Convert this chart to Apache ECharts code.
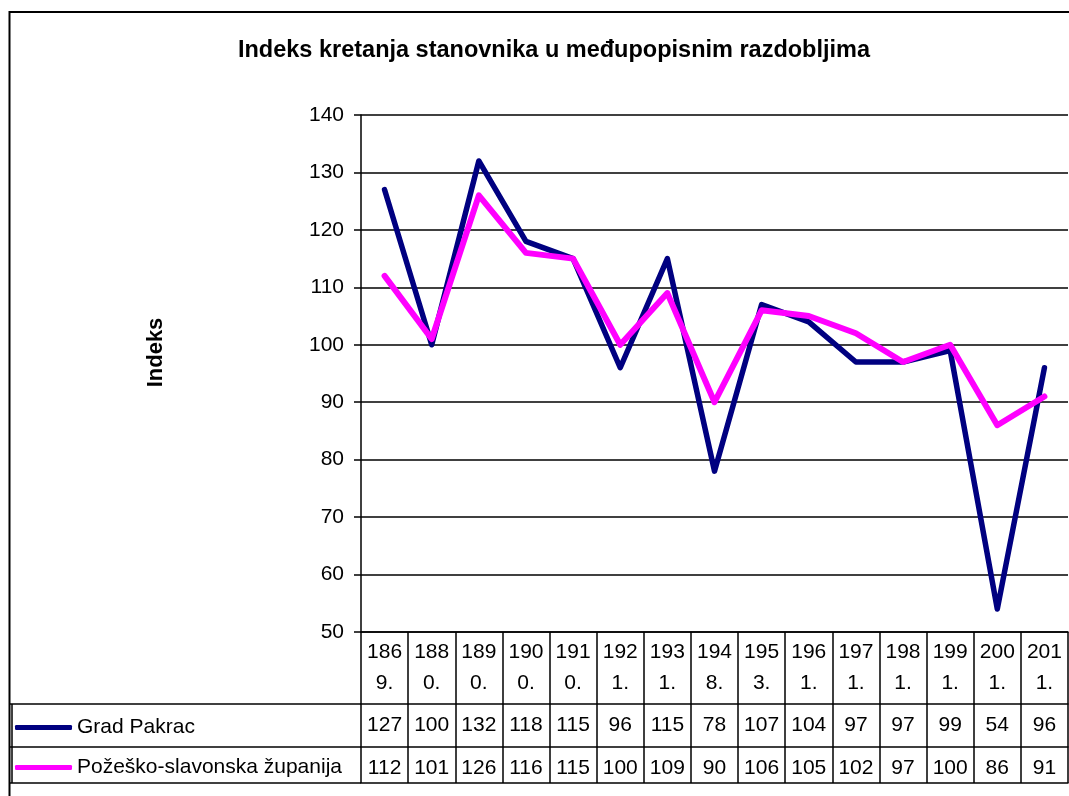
<!DOCTYPE html>
<html lang="hr">
<head>
    <meta charset="UTF-8">
    <title>Indeks kretanja stanovnika</title>
    <script src="https://cdn.jsdelivr.net/npm/echarts@6/dist/echarts.min.js"></script>
    <style>
        html, body {
            margin: 0;
            height: 100%;
            background: #fff;
        }
        #main {
            width: 1069px;
            height: 796px;
        }
    </style>
</head>
<body>
<div id="main"></div>
<script>
    // popisne godine (prelomljene kao u Excel tablici)
    var godine = ['186\n9.', '188\n0.', '189\n0.', '190\n0.', '191\n0.', '192\n1.', '193\n1.', '194\n8.',
        '195\n3.', '196\n1.', '197\n1.', '198\n1.', '199\n1.', '200\n1.', '201\n1.'];
    var gradPakrac = [127, 100, 132, 118, 115, 96, 115, 78, 107, 104, 97, 97, 99, 54, 96];
    var zupanija = [112, 101, 126, 116, 115, 100, 109, 90, 106, 105, 102, 97, 100, 86, 91];
    var yTicks = [50, 140, 10];   // min, max, korak

    var font = 'Arial, "Liberation Sans", sans-serif';
    var myChart = echarts.init(document.getElementById('main'));

    // redak tablice kao dodatna x os (samo crta + oznake)
    function tableRow(labels, offset, showLabels) {
        return {
            type: 'category',
            position: 'bottom',
            offset: offset,
            data: labels,
            axisLine: {show: true, lineStyle: {color: '#000', width: 1.5}},
            axisTick: {show: false},
            axisLabel: {
                show: showLabels,
                margin: 11,
                color: '#000',
                fontFamily: font,
                fontSize: 21
            },
            splitLine: {show: false}
        };
    }

    var option = {
        backgroundColor: '#fff',
        animation: false,
        title: {
            text: 'Indeks kretanja stanovnika u međupopisnim razdobljima',
            left: 549,
            textAlign: 'center',
            top: 34,
            textStyle: {fontFamily: font, fontSize: 23.5, fontWeight: 'bold', color: '#000'}
        },
        legend: {
            orient: 'vertical',
            left: 15,
            top: 717,
            padding: 0,
            itemGap: 19,
            itemWidth: 57,
            itemHeight: 5,
            icon: 'roundRect',
            selectedMode: false,
            textStyle: {fontFamily: font, fontSize: 21, color: '#000', lineHeight: 21},
            data: ['Grad Pakrac', 'Požeško-slavonska županija']
        },
        grid: {left: 361, right: 1, top: 115, bottom: 164, containLabel: false},
        xAxis: [
            {
                type: 'category',
                data: godine,
                axisLine: {show: true, lineStyle: {color: '#000', width: 1.5}},
                axisTick: {show: true, length: 151, lineStyle: {color: '#000', width: 1.5}},
                axisLabel: {
                    margin: 5,
                    color: '#000',
                    fontFamily: font,
                    fontSize: 21,
                    lineHeight: 31,
                    interval: 0
                }
            },
            tableRow(gradPakrac.map(String), 72, true),
            tableRow(zupanija.map(String), 115, true),
            tableRow(godine, 151, false)
        ],
        yAxis: {
            type: 'value',
            min: yTicks[0],
            max: yTicks[1],
            interval: yTicks[2],
            name: 'Indeks',
            nameLocation: 'middle',
            nameGap: 194,
            nameRotate: 90,
            nameTextStyle: {fontFamily: font, fontSize: 22, fontWeight: 'bold', color: '#000', padding: [0, 0, 0, 42]},
            axisLine: {show: true, lineStyle: {color: '#000', width: 1.5}},
            axisTick: {show: true, length: 7, lineStyle: {color: '#000', width: 1.5}},
            axisLabel: {margin: 17, color: '#000', fontFamily: font, fontSize: 21},
            splitLine: {lineStyle: {color: '#000', width: 1.5}}
        },
        graphic: [
            // vanjski okvir
            {type: 'rect', shape: {x: 9.5, y: 12, width: 1070, height: 800},
                style: {fill: null, stroke: '#000', lineWidth: 2}, silent: true},
            // lijevi dio tablice (legenda)
            {type: 'line', shape: {x1: 9, y1: 704, x2: 361, y2: 704}, style: {stroke: '#000', lineWidth: 1.5}},
            {type: 'line', shape: {x1: 9, y1: 747, x2: 361, y2: 747}, style: {stroke: '#000', lineWidth: 1.5}},
            {type: 'line', shape: {x1: 9, y1: 783, x2: 361, y2: 783}, style: {stroke: '#000', lineWidth: 1.5}},
            {type: 'line', shape: {x1: 12, y1: 704, x2: 12, y2: 783}, style: {stroke: '#000', lineWidth: 1.5}}
        ],
        series: [
            {
                name: 'Grad Pakrac',
                type: 'line',
                data: gradPakrac,
                showSymbol: false,
                color: '#000080',
                lineStyle: {width: 5.5, color: '#000080', join: 'round', cap: 'round'}
            },
            {
                name: 'Požeško-slavonska županija',
                type: 'line',
                data: zupanija,
                showSymbol: false,
                color: '#ff00ff',
                lineStyle: {width: 6, color: '#ff00ff', join: 'round', cap: 'round'}
            }
        ]
    };

    myChart.setOption(option);
</script>
</body>
</html>
